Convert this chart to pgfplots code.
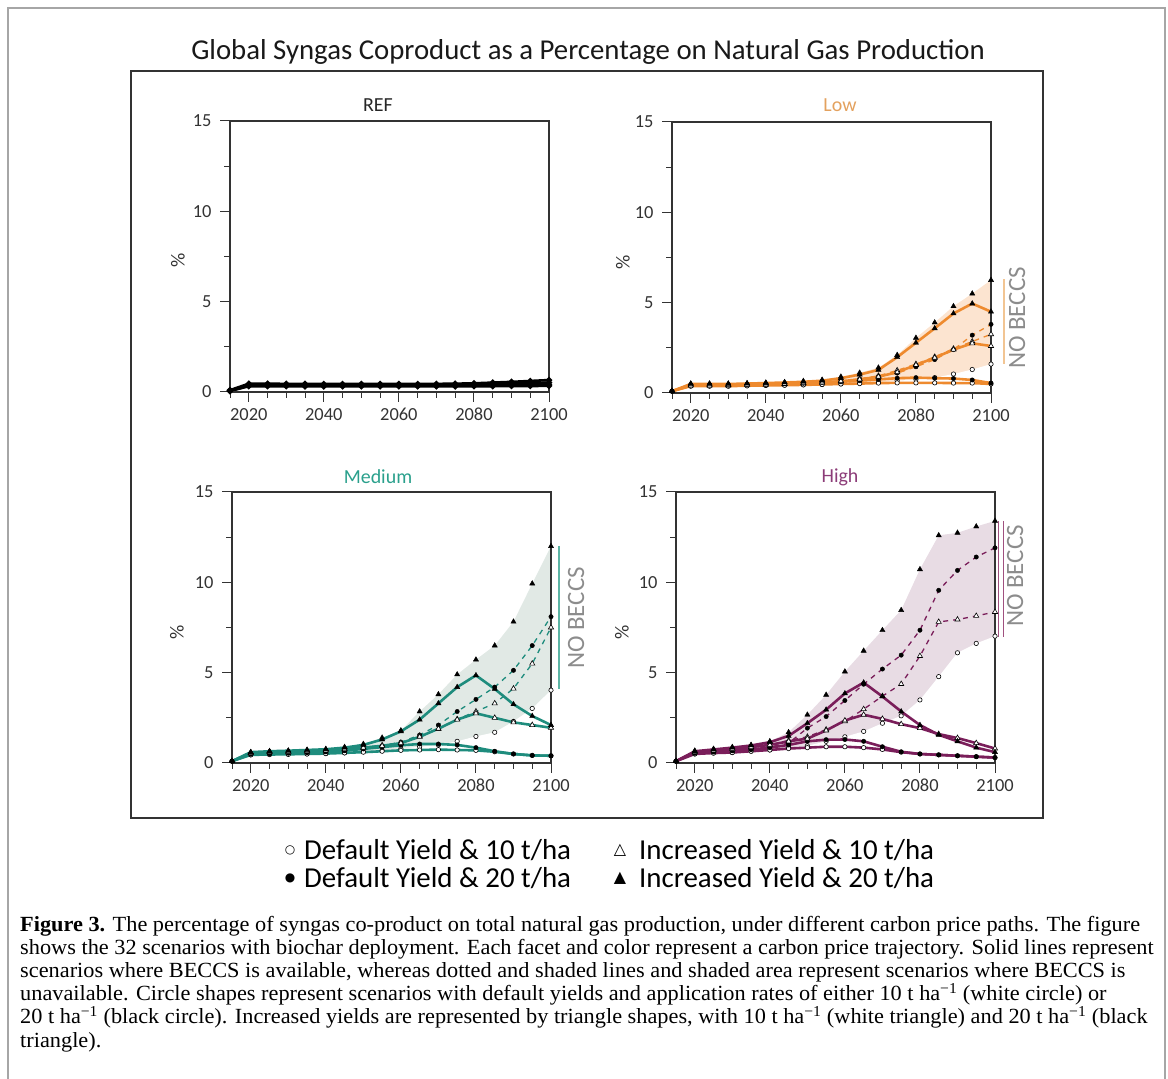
\documentclass[border=0pt]{standalone}
\usepackage{pgfplots}
\pgfplotsset{compat=1.18}
\usepackage{pgfplotstable}
\usepackage{fontspec}
\setmainfont{Carlito}
\newfontfamily\capfont{Liberation Serif}
\newfontfamily\symfont{DejaVu Sans}

\definecolor{lowline}{HTML}{EE8A2E}
\definecolor{lowshade}{HTML}{FCE4D0}
\definecolor{lowtitle}{HTML}{E3A15E}
\definecolor{lownob}{HTML}{F2C593}
\definecolor{medline}{HTML}{1E8C7D}
\definecolor{medshade}{HTML}{E1E9E5}
\definecolor{medtitle}{HTML}{2AA08C}
\definecolor{mednob}{HTML}{5DB5A5}
\definecolor{highline}{HTML}{7A1E5A}
\definecolor{highshade}{HTML}{E8DCE4}
\definecolor{hightitle}{HTML}{8C3C78}
\definecolor{highnob}{HTML}{A0507F}
\definecolor{axgray}{HTML}{333333}

\pgfplotstableread{
yr a b c d
2015 0.10 0.08 0.06 0.05
2020 0.46 0.41 0.36 0.32
2025 0.46 0.41 0.36 0.32
2030 0.45 0.40 0.36 0.32
2035 0.45 0.40 0.35 0.31
2040 0.44 0.39 0.35 0.31
2045 0.44 0.39 0.35 0.31
2050 0.44 0.39 0.35 0.31
2055 0.44 0.39 0.35 0.31
2060 0.44 0.39 0.35 0.31
2065 0.44 0.39 0.35 0.31
2070 0.45 0.40 0.35 0.31
2075 0.46 0.41 0.36 0.31
2080 0.48 0.42 0.36 0.32
2085 0.52 0.44 0.37 0.32
2090 0.56 0.46 0.38 0.33
2095 0.61 0.49 0.39 0.33
2100 0.66 0.52 0.40 0.34
}\refdata

\pgfplotstableread{
yr Bi20 Bi10 Bd20 Bd10 Ni20 Ni10 Nd20 Nd10
2015 0.10 0.10 0.10 0.10 0.10 0.10 0.10 0.10
2020 0.50 0.42 0.45 0.38 0.52 0.42 0.45 0.38
2025 0.50 0.42 0.45 0.38 0.52 0.42 0.45 0.38
2030 0.50 0.43 0.45 0.38 0.52 0.43 0.45 0.38
2035 0.52 0.45 0.47 0.40 0.54 0.45 0.47 0.40
2040 0.55 0.47 0.50 0.42 0.57 0.47 0.50 0.42
2045 0.58 0.50 0.52 0.43 0.60 0.50 0.52 0.43
2050 0.62 0.54 0.55 0.45 0.66 0.54 0.55 0.45
2055 0.68 0.58 0.58 0.47 0.73 0.58 0.60 0.47
2060 0.82 0.65 0.62 0.50 0.90 0.65 0.66 0.50
2065 1.02 0.75 0.68 0.52 1.12 0.78 0.78 0.55
2070 1.28 0.90 0.75 0.55 1.40 0.95 0.92 0.60
2075 1.98 1.15 0.82 0.56 2.10 1.25 1.10 0.68
2080 2.78 1.55 0.85 0.56 3.05 1.60 1.45 0.75
2085 3.58 1.95 0.82 0.56 3.90 2.00 1.85 0.85
2090 4.40 2.40 0.80 0.55 4.80 2.45 2.40 1.05
2095 4.95 2.75 0.72 0.55 5.50 2.85 3.20 1.30
2100 4.50 2.60 0.55 0.50 6.25 3.25 3.80 1.60
}\lowdata

\pgfplotstableread{
yr Bi20 Bi10 Bd20 Bd10 Ni20 Ni10 Nd20 Nd10
2015 0.10 0.10 0.10 0.10 0.10 0.10 0.10 0.10
2020 0.60 0.55 0.50 0.45 0.60 0.55 0.50 0.45
2025 0.65 0.60 0.52 0.47 0.65 0.60 0.52 0.47
2030 0.68 0.62 0.55 0.48 0.68 0.62 0.55 0.48
2035 0.72 0.65 0.58 0.50 0.72 0.65 0.58 0.50
2040 0.76 0.70 0.62 0.52 0.77 0.70 0.62 0.52
2045 0.85 0.76 0.68 0.56 0.88 0.76 0.70 0.56
2050 1.00 0.85 0.78 0.60 1.05 0.86 0.82 0.62
2055 1.30 0.95 0.88 0.65 1.40 0.98 0.95 0.70
2060 1.75 1.10 0.98 0.70 1.80 1.12 1.15 0.80
2065 2.40 1.45 1.05 0.72 2.85 1.50 1.55 0.90
2070 3.30 1.90 1.05 0.74 3.80 1.88 2.10 1.00
2075 4.20 2.40 1.00 0.72 4.90 2.42 2.85 1.20
2080 4.85 2.75 0.85 0.70 5.72 2.85 3.52 1.47
2085 4.10 2.50 0.65 0.62 6.50 3.30 4.20 1.70
2090 3.25 2.25 0.50 0.50 7.82 4.12 5.13 2.30
2095 2.60 2.10 0.42 0.42 9.93 5.50 6.50 3.02
2100 2.10 1.95 0.40 0.40 12.00 7.50 8.10 4.03
}\meddata

\pgfplotstableread{
yr Bi20 Bi10 Bd20 Bd10 Ni20 Ni10 Nd20 Nd10
2015 0.10 0.10 0.10 0.10 0.10 0.10 0.10 0.10
2020 0.65 0.60 0.55 0.50 0.68 0.60 0.55 0.50
2025 0.75 0.70 0.62 0.55 0.78 0.70 0.62 0.55
2030 0.85 0.78 0.68 0.58 0.88 0.78 0.68 0.58
2035 0.97 0.88 0.75 0.65 1.00 0.88 0.75 0.65
2040 1.15 1.00 0.85 0.72 1.20 1.00 0.88 0.72
2045 1.50 1.20 1.00 0.80 1.70 1.25 1.10 0.85
2050 2.20 1.35 1.20 0.85 2.67 1.45 1.93 0.95
2055 2.95 1.80 1.29 0.90 3.77 1.85 2.57 1.20
2060 3.85 2.35 1.30 0.90 5.06 2.30 3.46 1.45
2065 4.45 2.67 1.20 0.85 6.21 2.98 4.36 1.75
2070 3.68 2.44 0.90 0.75 7.35 3.70 5.20 2.20
2075 2.85 2.15 0.62 0.60 8.46 4.37 5.97 2.61
2080 2.10 1.93 0.50 0.50 10.72 5.92 7.35 3.49
2085 1.56 1.60 0.45 0.45 12.60 7.81 9.56 4.78
2090 1.20 1.38 0.40 0.40 12.74 7.94 10.66 6.10
2095 0.85 1.10 0.35 0.35 13.09 8.14 11.40 6.62
2100 0.60 0.80 0.30 0.30 13.40 8.36 11.91 7.02
}\highdata

\pgfplotsset{
  panel/.style={
    width=319bp, height=271bp, scale only axis, anchor=south west,
    xmin=2015, xmax=2100, ymin=0, ymax=15,
    xtick={2020,2040,2060,2080,2100},
    minor xtick={2015,2025,2030,2035,2045,2050,2055,2065,2070,2075,2085,2090,2095},
    ytick={0,5,10,15}, minor ytick={2.5,7.5,12.5},
    tick align=outside, tick pos=left,
    major tick length=10bp, minor tick length=6bp,
    tick style={color=axgray, line width=1bp},
    axis line style={axgray, line width=1.3bp},
    tick label style={font=\fontsize{18.5}{20}\selectfont, text=axgray},
    yticklabel style={xshift=-5bp},
    xticklabel style={text height=13bp, yshift=-2bp},
    /pgf/number format/assume math mode=true,
    /pgf/number format/1000 sep={},
    clip=false, axis on top,
  },
  mi20/.style={only marks, mark=triangle*, mark size=3bp, mark options={fill=black, draw=black, line width=0.4bp}},
  mi10/.style={only marks, mark=triangle*, mark size=3bp, mark options={fill=white, draw=black, line width=0.6bp}},
  md20/.style={only marks, mark=*, mark size=2.2bp, mark options={fill=black, draw=black, line width=0.4bp}},
  md10/.style={only marks, mark=*, mark size=2.2bp, mark options={fill=white, draw=black, line width=0.6bp}},
}

\newcommand{\panelplots}[3]{%
  \addplot[fill=#3, draw=none] table[x=yr, y=Ni20]{#1} \closedcycle;
  \addplot[fill=white, draw=none] table[x=yr, y=Nd10]{#1} \closedcycle;
  \addplot[#2, dash pattern=on 5bp off 5bp, line width=1.3bp, no marks] table[x=yr, y=Nd20]{#1};
  \addplot[#2, dash pattern=on 5bp off 5bp, line width=1.3bp, no marks] table[x=yr, y=Ni10]{#1};
  \addplot[#2, line width=2.6bp, no marks] table[x=yr, y=Bd10]{#1};
  \addplot[#2, line width=2.6bp, no marks] table[x=yr, y=Bd20]{#1};
  \addplot[#2, line width=2.6bp, no marks] table[x=yr, y=Bi10]{#1};
  \addplot[#2, line width=2.6bp, no marks] table[x=yr, y=Bi20]{#1};
  \addplot[md10] table[x=yr, y=Nd10]{#1};
  \addplot[md10] table[x=yr, y=Bd10]{#1};
  \addplot[md20] table[x=yr, y=Nd20]{#1};
  \addplot[md20] table[x=yr, y=Bd20]{#1};
  \addplot[mi10] table[x=yr, y=Ni10]{#1};
  \addplot[mi10] table[x=yr, y=Bi10]{#1};
  \addplot[mi20] table[x=yr, y=Ni20]{#1};
  \addplot[mi20] table[x=yr, y=Bi20]{#1};
}

\begin{document}
\begin{tikzpicture}[x=1bp, y=1bp]
\path[use as bounding box] (0bp,0bp) rectangle (1168bp,1079bp);
% outer frame
\draw[color=black!35, line width=1.5bp] (8bp,0bp) -- (8bp,1071bp) -- (1165bp,1071bp) -- (1165bp,0bp);
% inner box
\draw[color=axgray, line width=1.5bp] (131bp,261bp) rectangle (1043bp,1008bp);
% title
\node[anchor=base, font=\fontsize{28.9}{32}\selectfont, text=black!90] at (588bp,1019bp) {Global Syngas Coproduct as a Percentage on Natural Gas Production};

% REF
\begin{axis}[panel, at={(230bp,687bp)}]
  \addplot[black, line width=2.6bp, mark=*, mark size=1.6bp] table[x=yr, y=d]{\refdata};
  \addplot[black, line width=2.6bp, mark=*, mark size=1.6bp] table[x=yr, y=c]{\refdata};
  \addplot[black, line width=2.6bp, mark=*, mark size=1.6bp] table[x=yr, y=b]{\refdata};
  \addplot[black, line width=2.6bp, mark=*, mark size=1.6bp] table[x=yr, y=a]{\refdata};
\end{axis}

% Low
\begin{axis}[panel, at={(672bp,686bp)}]
  \panelplots{\lowdata}{lowline}{lowshade}
  \draw[lownob, line width=1.3bp] (axis cs:2103.5,6.3) -- (axis cs:2103.5,1.6);
\end{axis}

% Medium
\begin{axis}[panel, at={(232bp,316bp)}]
  \panelplots{\meddata}{medline}{medshade}
  \draw[mednob, line width=1.3bp] (axis cs:2102.1,12.0) -- (axis cs:2102.1,4.1);
\end{axis}

% High
\begin{axis}[panel, at={(676bp,316bp)}]
  \panelplots{\highdata}{highline}{highshade}
  \draw[highnob, line width=1bp] (axis cs:2101.0,13.4) -- (axis cs:2101.0,7.0);
  \draw[highnob, line width=1bp] (axis cs:2102.2,13.4) -- (axis cs:2102.2,7.0);
\end{axis}

% panel titles
\node[font=\fontsize{20}{22}\selectfont, text=black!85] at (378bp,974bp) {REF};
\node[font=\fontsize{20}{22}\selectfont, text=lowtitle] at (840bp,974bp) {Low};
\node[font=\fontsize{20}{22}\selectfont, text=medtitle] at (378bp,602bp) {Medium};
\node[font=\fontsize{20}{22}\selectfont, text=hightitle] at (840bp,602bp) {High};

% y labels
\node[rotate=90, font=\fontsize{20}{22}\selectfont, text=axgray] at (178bp,819bp) {\%};
\node[rotate=90, font=\fontsize{20}{22}\selectfont, text=axgray] at (623bp,817bp) {\%};
\node[rotate=90, font=\fontsize{20}{22}\selectfont, text=axgray] at (177bp,447bp) {\%};
\node[rotate=90, font=\fontsize{20}{22}\selectfont, text=axgray] at (622bp,447bp) {\%};

% NO BECCS
\node[rotate=90, font=\fontsize{25}{27}\selectfont, text=black!45] at (1017bp,761bp) {NO BECCS};
\node[rotate=90, font=\fontsize{25}{27}\selectfont, text=black!45] at (576bp,461bp) {NO BECCS};
\node[rotate=90, font=\fontsize{25}{27}\selectfont, text=black!45] at (1015bp,503bp) {NO BECCS};

% legend
\node[font=\symfont\fontsize{12}{14}\selectfont] at (290bp,229bp) {○};
\node[font=\symfont\fontsize{12}{14}\selectfont] at (290bp,201bp) {●};
\node[font=\symfont\fontsize{16}{18}\selectfont] at (620bp,229bp) {△};
\node[font=\symfont\fontsize{16}{18}\selectfont] at (620bp,201bp) {▲};
\node[anchor=west, inner sep=0pt, font=\fontsize{29}{32}\selectfont] at (304bp,229bp) {Default Yield \& 10 t/ha};
\node[anchor=west, inner sep=0pt, font=\fontsize{29}{32}\selectfont] at (304bp,201bp) {Default Yield \& 20 t/ha};
\node[anchor=west, inner sep=0pt, font=\fontsize{29}{32}\selectfont] at (639bp,229bp) {Increased Yield \& 10 t/ha};
\node[anchor=west, inner sep=0pt, font=\fontsize{29}{32}\selectfont] at (639bp,201bp) {Increased Yield \& 20 t/ha};

% caption
\begin{scope}[every node/.style={anchor=base west, inner sep=0pt, xscale=1.032, font=\capfont\fontsize{21.7}{24}\selectfont}]
\node at (20bp,147bp) {\textbf{Figure 3.} The percentage of syngas co-product on total natural gas production, under different carbon price paths. The figure};
\node at (20bp,124bp) {shows the 32 scenarios with biochar deployment. Each facet and color represent a carbon price trajectory. Solid lines represent};
\node at (20bp,101bp) {scenarios where BECCS is available, whereas dotted and shaded lines and shaded area represent scenarios where BECCS is};
\node at (20bp,78bp) {unavailable. Circle shapes represent scenarios with default yields and application rates of either 10 t ha\textsuperscript{−1} (white circle) or};
\node at (20bp,55bp) {20 t ha\textsuperscript{−1} (black circle). Increased yields are represented by triangle shapes, with 10 t ha\textsuperscript{−1} (white triangle) and 20 t ha\textsuperscript{−1} (black};
\node at (20bp,32bp) {triangle).};
\end{scope}
\end{tikzpicture}
\end{document}
